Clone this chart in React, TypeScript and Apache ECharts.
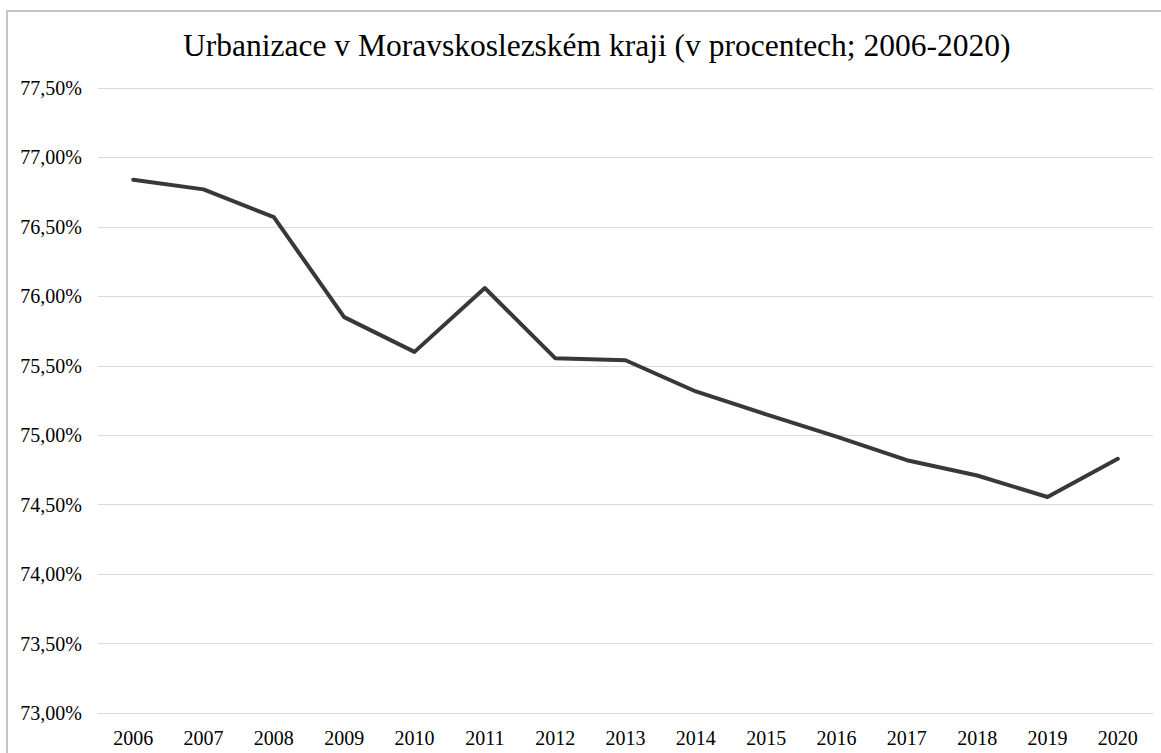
import React, { useEffect, useRef } from "react";
import * as echarts from "echarts";

const years = ["2006", "2007", "2008", "2009", "2010", "2011", "2012", "2013", "2014", "2015", "2016", "2017", "2018", "2019", "2020"];
const urbanization = [76.84, 76.77, 76.57, 75.85, 75.6, 76.06, 75.555, 75.54, 75.315, 75.15, 74.99, 74.82, 74.71, 74.555, 74.83];
const yMin = 73;
const yMax = 77.5;
const yStep = 0.5;
const titleText = "Urbanizace v Moravskoslezském kraji (v procentech; 2006-2020)";

const FONT = "'Liberation Serif', 'Times New Roman', serif";

export default function App() {
  const ref = useRef<HTMLDivElement>(null);
  useEffect(() => {
    if (!ref.current) return;
    const chart = echarts.init(ref.current, null, { renderer: "svg" });
    chart.setOption({
      animation: false,
      backgroundColor: "#ffffff",
      title: {
        text: titleText,
        left: 178,
        top: 24,
        textStyle: { fontFamily: FONT, fontSize: 31.5, fontWeight: "normal", color: "#000000" },
      },
      graphic: [
        {
          type: "rect",
          shape: { x: 7, y: 11, width: 1300, height: 900 },
          style: { fill: "none", stroke: "#c4c4c4", lineWidth: 2 },
          silent: true,
          z: 100,
        },
      ],
      grid: { left: 98, right: 8, top: 88, bottom: 40, containLabel: false },
      xAxis: {
        type: "category",
        data: years,
        boundaryGap: true,
        axisLine: { show: true, lineStyle: { color: "#d9d9d9", width: 1 } },
        axisTick: { show: false },
        axisLabel: { fontFamily: FONT, fontSize: 20, color: "#000000", margin: 15 },
      },
      yAxis: {
        type: "value",
        min: yMin,
        max: yMax,
        interval: yStep,
        axisLine: { show: false },
        axisTick: { show: false },
        splitLine: { lineStyle: { color: "#d9d9d9", width: 1 } },
        axisLabel: {
          fontFamily: FONT,
          fontSize: 20,
          color: "#000000",
          margin: 16,
          formatter: (v: number) => v.toFixed(2).replace(".", ",") + "%",
        },
      },
      series: [
        {
          type: "line",
          data: urbanization,
          symbol: "none",
          lineStyle: { color: "#383838", width: 4, cap: "round", join: "round" },
        },
      ],
    });
    return () => chart.dispose();
  }, []);
  return <div ref={ref} style={{ position: "fixed", left: 0, top: 0, width: 1161, height: 753 }} />;
}
